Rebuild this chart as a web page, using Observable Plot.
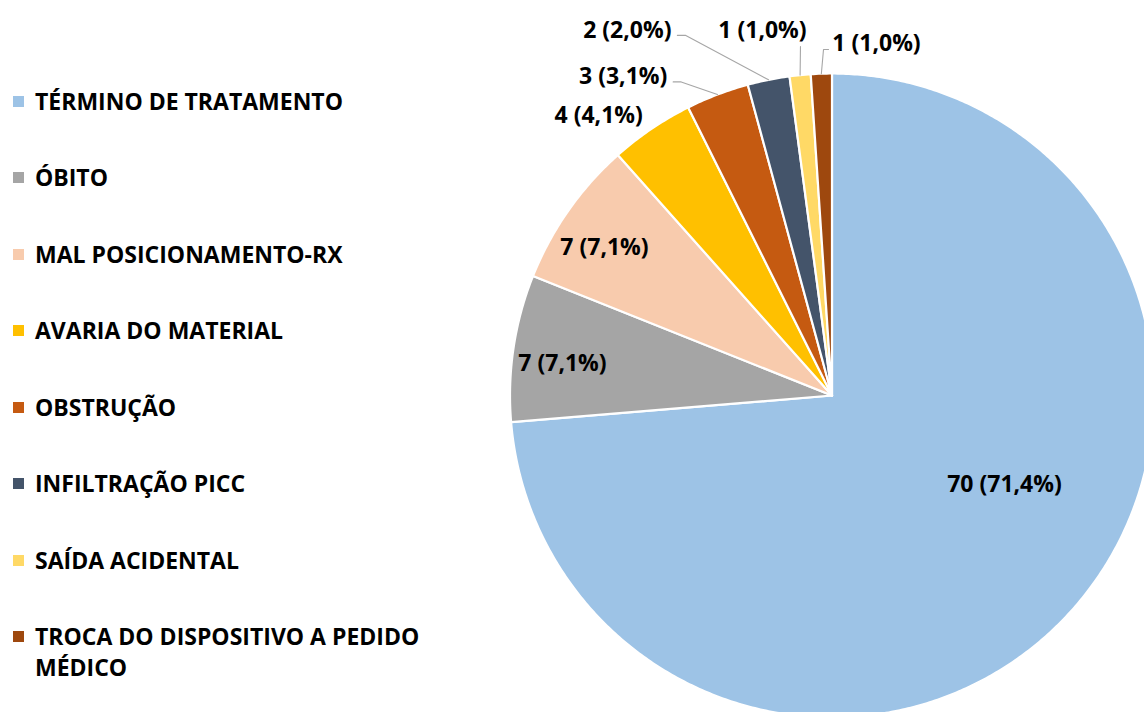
<!DOCTYPE html>
<html>
<head>
<meta charset="utf-8">
<script src="https://cdn.jsdelivr.net/npm/d3@7"></script>
<script src="https://cdn.jsdelivr.net/npm/@observablehq/plot@0.6"></script>
<style>
  html, body { margin: 0; padding: 0; background: #fff; }
  #wrap { position: relative; width: 1144px; height: 712px; overflow: hidden; }
  #legend { position: absolute; left: 0; top: 85.5px; font-family: "Open Sans", Lato, sans-serif; font-weight: 700; font-size: 23px; color: #000; }
  .row { position: relative; height: 31px; line-height: 31px; margin-bottom: 45.5px; }
  .sw { position: absolute; left: 13px; top: 10px; width: 11px; height: 11px; }
  .lab { position: absolute; left: 35px; top: 0; width: 405px; white-space: normal; }
  #chart { position: absolute; left: 0; top: 0; }
</style>
</head>
<body>
<div id="wrap">
  <div id="chart"></div>
  <div id="legend"></div>
</div>
<script>
// ---- data ----
const categories = [
  "TÉRMINO DE TRATAMENTO",
  "ÓBITO",
  "MAL POSICIONAMENTO-RX",
  "AVARIA DO MATERIAL",
  "OBSTRUÇÃO",
  "INFILTRAÇÃO PICC",
  "SAÍDA ACIDENTAL",
  "TROCA DO DISPOSITIVO A PEDIDO MÉDICO"
];
const counts = [70, 7, 7, 4, 3, 2, 1, 1];
const percents = [71.4, 7.1, 7.1, 4.1, 3.1, 2.0, 1.0, 1.0];
const colors = ["#9DC3E6", "#A5A5A5", "#F8CBAD", "#FFC000", "#C55A11", "#44546A", "#FFD966", "#9E480E"];

// ---- layout (label nudges relative to each slice's mid-angle) ----
const labelRadius = [0.603, 0.843, 0.843, 1.132, 1.183, 1.30, 1.154, 1.102];
const labelAngleShift = [-15.3, -1.7, -2.0, -5.7, -12.4, -17.9, -5.1, 9.1];
const leaderSide = [null, null, null, null, "right", "right", "bottom", "left"];

const W = 1144, H = 712;
const cx = 831.5, cy = 395, R = 322;
const FONT = "'Open Sans', Lato, sans-serif";

const total = d3.sum(counts);
const rad = d => d * Math.PI / 180;
const pt = (angDeg, r) => [r * Math.sin(rad(angDeg)), -r * Math.cos(rad(angDeg))];

// slices
let acc = 0;
const slices = counts.map((v, i) => {
  const a0 = acc / total * 360;
  acc += v;
  const a1 = acc / total * 360;
  return {i, cat: categories[i], v, a0, a1, mid: (a0 + a1) / 2};
});

const polyPts = [];
for (const s of slices) {
  polyPts.push({cat: s.cat, x: 0, y: 0});
  const n = Math.max(2, Math.ceil((s.a1 - s.a0) / 0.5));
  for (let k = 0; k <= n; k++) {
    const a = s.a0 + (s.a1 - s.a0) * k / n;
    const [x, y] = pt(a, 1);
    polyPts.push({cat: s.cat, x, y});
  }
  polyPts.push({cat: s.cat, x: 0, y: 0});
}

const fmt = p => p.toFixed(1).replace(".", ",");
const labels = slices.map(s => {
  const [x, y] = pt(s.mid + labelAngleShift[s.i], labelRadius[s.i]);
  return {x, y, text: `${s.v} (${fmt(percents[s.i])}%)`, s};
});

const leaderPts = [];
labels.forEach((l, i) => {
  const side = leaderSide[i];
  if (!side) return;
  const [ax, ay] = pt(l.s.mid, 1.0);
  let pts;
  if (side === "right") pts = [[l.x + 50 / R, l.y + 5 / R], [l.x + 58 / R, l.y + 5 / R], [ax, ay]];
  else if (side === "left") pts = [[l.x - 48 / R, l.y + 6 / R], [l.x - 53 / R, l.y + 6 / R], [ax, ay]];
  else pts = [[l.x + 38 / R, l.y + 16 / R], [ax, ay]];
  pts.forEach(([x, y]) => leaderPts.push({id: i, x, y}));
});

const chart = Plot.plot({
  width: W,
  height: H,
  margin: 0,
  x: {domain: [-cx / R, (W - cx) / R], range: [0, W], axis: null},
  y: {domain: [-cy / R, (H - cy) / R], range: [0, H], axis: null},
  color: {type: "ordinal", domain: categories, range: colors},
  style: {background: "#fff"},
  marks: [
    Plot.line(polyPts, {x: "x", y: "y", z: "cat", fill: "cat", stroke: "#fff", strokeWidth: 2.2, strokeLinejoin: "round", curve: "linear"}),
    Plot.line(leaderPts, {x: "x", y: "y", z: "id", stroke: "#A6A6A6", strokeWidth: 1.1}),
    Plot.text(labels, {x: "x", y: "y", text: "text", fontSize: 23, fontWeight: 700, fontFamily: FONT, fill: "#000"})
  ]
});
document.getElementById("chart").appendChild(chart);

// legend
const legend = document.getElementById("legend");
categories.forEach((c, i) => {
  const row = document.createElement("div");
  row.className = "row";
  const sw = document.createElement("div");
  sw.className = "sw";
  sw.style.background = colors[i];
  const lab = document.createElement("div");
  lab.className = "lab";
  lab.textContent = c;
  row.appendChild(sw);
  row.appendChild(lab);
  legend.appendChild(row);
});
</script>
</body>
</html>
